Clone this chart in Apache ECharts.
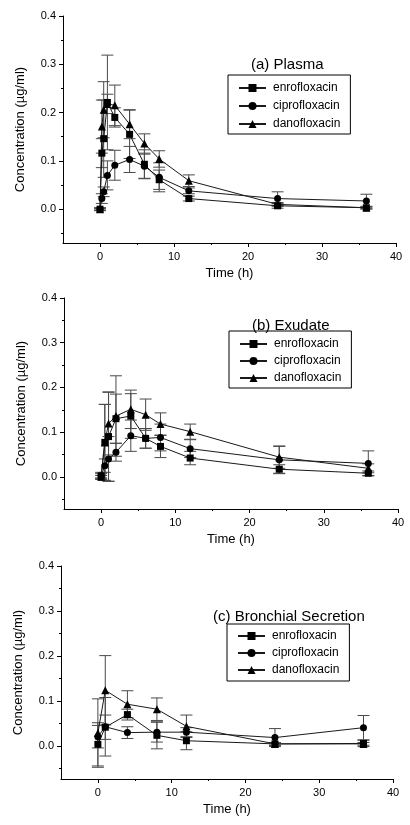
<!DOCTYPE html>
<html>
<head>
<meta charset="utf-8">
<script src="https://cdn.jsdelivr.net/npm/echarts@6/dist/echarts.min.js"></script>
<style>
html,body{margin:0;padding:0;background:#fff;}
#chart{width:410px;height:825px;}
</style>
</head>
<body>
<div id="chart"></div>
<script>
// ---- Data ----
const drugNames = ['enrofloxacin', 'ciprofloxacin', 'danofloxacin'];
const panelTitles = ['(a) Plasma', '(b) Exudate', '(c) Bronchial Secretion'];
const xTickLabels = [0, 10, 20, 30, 40];
const yTickLabels = [0, 0.1, 0.2, 0.3, 0.4];

// (a) Plasma
const plasmaTime = [0, 0.25, 0.5, 1, 2, 4, 6, 8, 12, 24, 36];
const plasmaEnro = [0, 0.116, 0.146, 0.221, 0.19, 0.155, 0.093, 0.061, 0.022, 0.007, 0.003];
const plasmaEnroSD = [0.003, 0.03, 0.08, 0.098, 0.02, 0.05, 0.03, 0.02, 0.005, 0.005, 0.003];
const plasmaCipro = [0, 0.022, 0.036, 0.07, 0.091, 0.103, 0.089, 0.066, 0.038, 0.022, 0.017];
const plasmaCiproSD = [0.002, 0.01, 0.01, 0.03, 0.031, 0.027, 0.025, 0.03, 0.006, 0.014, 0.014];
const plasmaDano = [0, 0.171, 0.206, 0.218, 0.215, 0.176, 0.136, 0.104, 0.059, 0.01, 0.003];
const plasmaDanoSD = [0.002, 0.055, 0.058, 0.02, 0.042, 0.03, 0.02, 0.017, 0.012, 0.004, 0.002];

// (b) Exudate
const exudateTime = [0, 0.5, 1, 2, 4, 6, 8, 12, 24, 36];
const exudateEnro = [0.002, 0.077, 0.09, 0.13, 0.136, 0.086, 0.068, 0.042, 0.017, 0.008];
const exudateEnroSD = [0.008, 0.085, 0.1, 0.055, 0.05, 0.022, 0.025, 0.015, 0.01, 0.005];
const exudateCipro = [0.002, 0.025, 0.04, 0.055, 0.092, 0.086, 0.088, 0.063, 0.038, 0.03];
const exudateCiproSD = [0.005, 0.015, 0.05, 0.02, 0.035, 0.022, 0.03, 0.02, 0.03, 0.028];
const exudateDano = [0, 0.077, 0.119, 0.136, 0.151, 0.139, 0.118, 0.101, 0.044, 0.019];
const exudateDanoSD = [0.003, 0.085, 0.07, 0.09, 0.043, 0.035, 0.025, 0.017, 0.025, 0.01];

// (c) Bronchial secretion
const bronchTime = [0, 1, 4, 8, 12, 24, 36];
const bronchEnro = [0.004, 0.042, 0.07, 0.024, 0.012, 0.005, 0.006];
const bronchEnroSD = [0.048, 0.027, 0.012, 0.03, 0.02, 0.003, 0.007];
const bronchCipro = [0.021, 0.043, 0.03, 0.031, 0.031, 0.019, 0.041];
const bronchCiproSD = [0.025, 0.065, 0.013, 0.022, 0.01, 0.02, 0.027];
const bronchDano = [0.029, 0.124, 0.093, 0.082, 0.044, 0.005, 0.005];
const bronchDanoSD = [0.076, 0.077, 0.03, 0.025, 0.025, 0.003, 0.003];

// ---- Build chart ----
const FONT = 'Liberation Sans, Arial, sans-serif';
const panels = [
  {time: plasmaTime, vals: [plasmaEnro, plasmaCipro, plasmaDano], sds: [plasmaEnroSD, plasmaCiproSD, plasmaDanoSD]},
  {time: exudateTime, vals: [exudateEnro, exudateCipro, exudateDano], sds: [exudateEnroSD, exudateCiproSD, exudateDanoSD]},
  {time: bronchTime, vals: [bronchEnro, bronchCipro, bronchDano], sds: [bronchEnroSD, bronchCiproSD, bronchDanoSD]}
];
const layout = [
  {grid: {left: 63, width: 333, top: 16, height: 227}, ymin: -0.07,
   title: {left: 251, top: 57}, legend: {left: 228, top: 75, gap: 6, pad: [7, 10, 4, 10]}},
  {grid: {left: 64, width: 334, top: 298, height: 211}, ymin: -0.072,
   title: {left: 252, top: 318}, legend: {left: 229, top: 331, gap: 5, pad: [7, 10, 4, 10]}},
  {grid: {left: 61, width: 332, top: 566, height: 213}, ymin: -0.073,
   title: {left: 213, top: 609}, legend: {left: 227, top: 624, gap: 5, pad: [6, 10, 5, 10]}}
];
const symbols = ['rect', 'circle', 'triangle'];
const symSizes = [7, 7, 8];
const LINE = '#1a1a1a';
const ERR = '#4a4a4a';

const grids = [], xAxes = [], yAxes = [], series = [], titles = [], legends = [];

function errRender(params, api) {
  const x = api.value(0), lo = api.value(1), hi = api.value(2);
  const p1 = api.coord([x, lo]);
  const p2 = api.coord([x, hi]);
  const w = 6;
  const st = {stroke: ERR, lineWidth: 1};
  return {
    type: 'group',
    children: [
      {type: 'line', shape: {x1: p1[0], y1: p1[1], x2: p2[0], y2: p2[1]}, style: st},
      {type: 'line', shape: {x1: p1[0] - w, y1: p1[1], x2: p1[0] + w, y2: p1[1]}, style: st},
      {type: 'line', shape: {x1: p2[0] - w, y1: p2[1], x2: p2[0] + w, y2: p2[1]}, style: st}
    ]
  };
}

panels.forEach((p, i) => {
  const L = layout[i];
  grids.push(Object.assign({containLabel: false}, L.grid));
  const axisLine = {show: true, onZero: false, lineStyle: {color: '#000', width: 1}};
  xAxes.push({
    type: 'value', gridIndex: i, min: -5, max: 40,
    name: 'Time (h)', nameLocation: 'middle', nameGap: 24,
    nameTextStyle: {fontSize: 13, color: '#000', fontFamily: FONT},
    axisLine: axisLine,
    axisTick: {show: true, length: 4, customValues: xTickLabels, lineStyle: {color: '#000'}},
    axisLabel: {show: true, customValues: xTickLabels, fontSize: 11, color: '#000', fontFamily: FONT, margin: 8},
    splitLine: {show: false}
  });
  xAxes.push({
    type: 'value', gridIndex: i, min: -5, max: 40, position: 'bottom',
    axisLine: {show: false, onZero: false},
    axisTick: {show: true, length: 2, customValues: [5, 15, 25, 35], lineStyle: {color: '#000'}},
    axisLabel: {show: false}, splitLine: {show: false}
  });
  yAxes.push({
    type: 'value', gridIndex: i, min: L.ymin, max: 0.4,
    name: 'Concentration (µg/ml)', nameLocation: 'middle', nameGap: 36,
    nameTextStyle: {fontSize: 13, color: '#000', fontFamily: FONT},
    axisLine: axisLine,
    axisTick: {show: true, length: 4, customValues: yTickLabels, lineStyle: {color: '#000'}},
    axisLabel: {show: true, customValues: yTickLabels, fontSize: 11, color: '#000', fontFamily: FONT, margin: 7,
      formatter: v => Number(v).toFixed(1)},
    splitLine: {show: false}
  });
  yAxes.push({
    type: 'value', gridIndex: i, min: L.ymin, max: 0.4, position: 'left',
    axisLine: {show: false, onZero: false},
    axisTick: {show: true, length: 2, customValues: [-0.05, 0.05, 0.15, 0.25, 0.35], lineStyle: {color: '#000'}},
    axisLabel: {show: false}, splitLine: {show: false}
  });

  p.vals.forEach((vals, k) => {
    const sd = p.sds[k];
    series.push({
      type: 'custom', name: drugNames[k] + ' SD ' + i,
      xAxisIndex: 2 * i, yAxisIndex: 2 * i,
      renderItem: errRender,
      encode: {x: 0, y: [1, 2]},
      data: p.time.map((t, j) => [t, vals[j] - sd[j], vals[j] + sd[j]]),
      z: 2, silent: true
    });
  });
  p.vals.forEach((vals, k) => {
    series.push({
      type: 'line', name: drugNames[k],
      xAxisIndex: 2 * i, yAxisIndex: 2 * i,
      data: p.time.map((t, j) => [t, vals[j]]),
      symbol: symbols[k], symbolSize: symSizes[k], showAllSymbol: true,
      lineStyle: {color: LINE, width: 1},
      itemStyle: {color: '#000', borderWidth: 0},
      z: 3, animation: false
    });
  });

  titles.push({
    text: panelTitles[i], left: L.title.left, top: L.title.top, padding: 0,
    textStyle: {fontSize: 15, fontWeight: 'normal', color: '#000', fontFamily: FONT}
  });
  legends.push({
    data: drugNames, orient: 'vertical',
    left: L.legend.left, top: L.legend.top,
    padding: L.legend.pad, itemGap: L.legend.gap,
    itemWidth: 27, itemHeight: 10,
    borderColor: '#000', borderWidth: 1,
    textStyle: {fontSize: 12, color: '#000', fontFamily: FONT, padding: [0, 0, 0, 2]},
    selectedMode: false
  });
});

const chart = echarts.init(document.getElementById('chart'), null, {renderer: 'canvas'});
chart.setOption({
  backgroundColor: '#fff',
  animation: false,
  title: titles,
  legend: legends,
  grid: grids,
  xAxis: xAxes,
  yAxis: yAxes,
  series: series
});
</script>
</body>
</html>
